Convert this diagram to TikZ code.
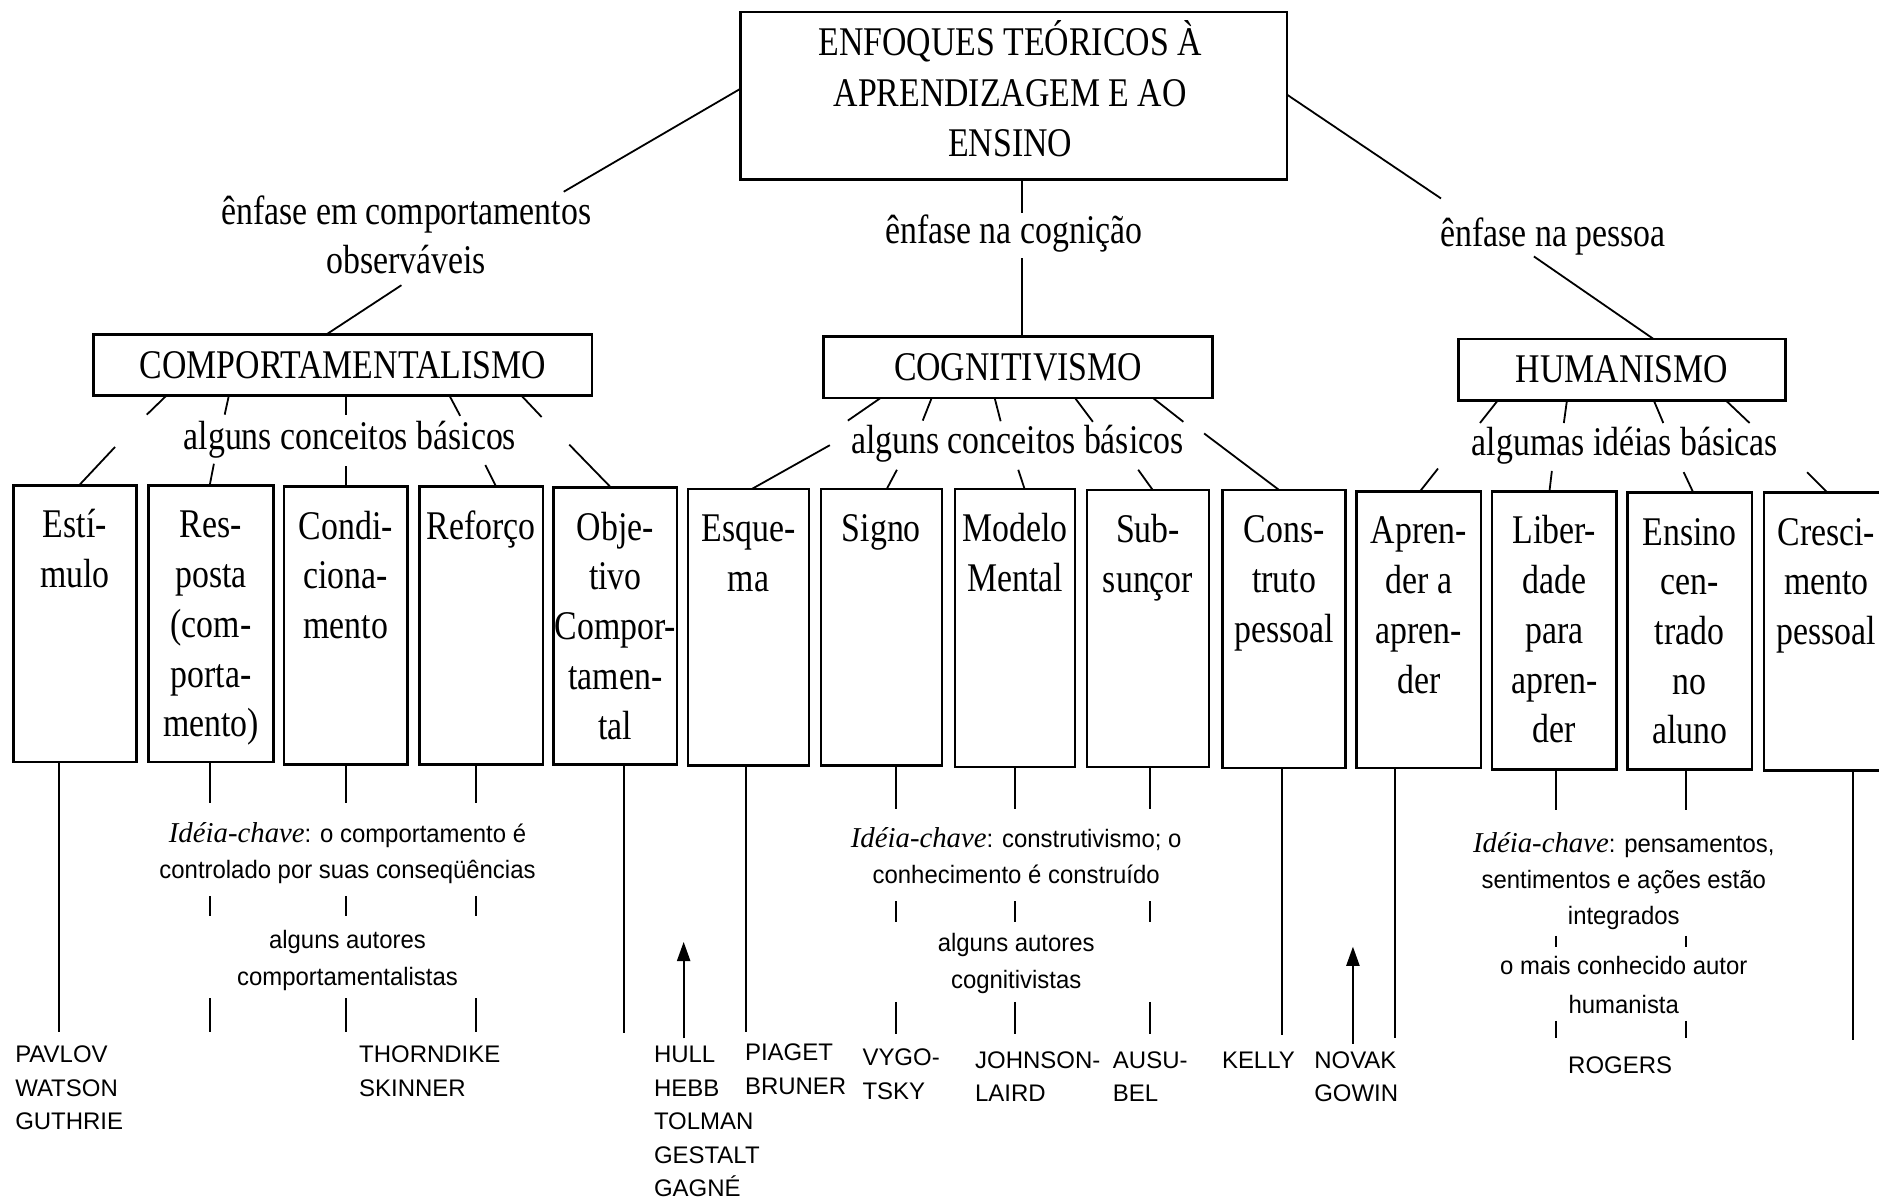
\documentclass[tikz,border=0pt]{standalone}
\usepackage{fontspec}
\setmainfont{Liberation Serif}[FakeStretch=0.83]
\newfontfamily\sansf{Liberation Sans}[FakeStretch=0.95]
\newfontfamily\namef{Liberation Sans}
\newfontfamily\keyf{Liberation Serif}
\usetikzlibrary{arrows.meta}
\newcommand{\ideia}{{\keyf\itshape\fontsize{24}{30}\selectfont Idéia-chave}}
\begin{document}
\begin{tikzpicture}[x=1pt,y=-1pt,line width=1.5pt,
  box/.style={draw,line width=2.2pt,inner sep=0pt,outer sep=0pt},
  big/.style={font=\fontsize{34}{41.5}\selectfont},
  btext/.style={big,align=center,anchor=north,inner sep=0pt},
  lab/.style={big,inner sep=0pt,anchor=base},
  small/.style={font=\sansf\fontsize{21}{30}\selectfont,align=center,anchor=north,inner sep=0pt},
  names/.style={font=\namef\fontsize{20}{28}\selectfont,align=left,anchor=north west,inner sep=0pt},
  arr/.style={-{Triangle[length=16pt,width=11pt]}}]

\fill[white] (0,0) rectangle (1568,1000.5);
\useasboundingbox (0,0) rectangle (1568,1000.5);

% ---- top level
\node[box,minimum width=456pt,minimum height=140pt] (top) at (846,80) {};
\node[btext,font=\fontsize{34}{42.5}\selectfont] (title) at (843,15.5) {\strut ENFOQUES TEÓRICOS À\\APRENDIZAGEM E AO\\ENSINO};
\node[btext] (e1) at (339,157.3) {\strut ênfase em comportamentos\\observáveis};
\node[lab] (e2) at (846,203.5) {ênfase na cognição};
\node[lab] (e3) at (1296,205.5) {ênfase na pessoa};

\node[box,big,minimum width=416pt,minimum height=51pt] (comp) at (286,304.5) {COMPORTAMENTALISMO};
\node[box,big,minimum width=325pt,minimum height=51pt] (cog) at (849.5,306.5) {COGNITIVISMO};
\node[box,big,minimum width=273pt,minimum height=51pt] (hum) at (1353.5,308.5) {HUMANISMO};

\node[lab] (c1) at (292,375.5) {alguns conceitos básicos};
\node[lab] (c2) at (849,378.5) {alguns conceitos básicos};
\node[lab] (c3) at (1356,380.5) {algumas idéias básicas};

\coordinate (p1) at (470.4,160);
\draw ([yshift=6pt]top.west) -- (p1);
\coordinate (p2) at (335,238);
\draw (p2) -- (comp.north -| 272.5,0);
\coordinate (p3) at (853,178);
\coordinate (p4) at (853,215.5);
\draw (top.south -| 853,0) -- (p3);
\draw (p4) -- (cog.north -| 853,0);
\coordinate (p5) at (1202.5,165.6);
\draw ([yshift=1pt]top.east) -- (p5);
\coordinate (p6) at (1280,214);
\draw (p6) -- (hum.north -| 1380,0);

% ---- concept boxes
\foreach \bn/\xa/\xb/\ya/\yb/\txt in {
  b1/11/114/405/636/{Estí-\\mulo},
  b2/124/228/405/636/{Res-\\posta\\(com-\\porta-\\mento)},
  b3/237/340/406/638/{Condi-\\ciona-\\mento},
  b4/350/453/406/638/{Reforço},
  b5/462/565/407/638/{Obje-\\tivo\\Compor-\\tamen-\\tal},
  b6/574/675/408/639/{Esque-\\ma},
  b7/685/786/408/639/{Signo},
  b8/797/897/408/640/{Modelo\\Mental},
  b9/907/1009/409/640/{Sub-\\sunçor},
  b10/1020/1123/409/641/{Cons-\\truto\\pessoal},
  b11/1132/1236/410/641/{Apren-\\der a\\apren-\\der},
  b12/1245/1349/410/642/{Liber-\\dade\\para\\apren-\\der},
  b13/1358/1462/411/642/{Ensino\\cen-\\trado\\no\\aluno},
  b14/1472/1576/411/643/{Cresci-\\mento\\pessoal}}{
  \node[box,minimum width={\xb pt-\xa pt},minimum height={\yb pt-\ya pt}] (\bn) at ({(\xa+\xb)/2},{(\ya+\yb)/2}) {};
  \node[btext] (t\bn) at ([yshift=-14pt]\bn.north) {\strut\txt};
}

% ---- fans: heading box -> label
\foreach \hb/\a/\b/\c [count=\i] in {
  comp/139/122.5/346, comp/191/187.5/346, comp/289/289/346.5, comp/375/384/347, comp/435/452/348,
  cog/735/707.5/351, cog/777.5/770/351, cog/830/835/351.5, cog/897/912/352, cog/962/987.5/352,
  hum/1250/1235/353, hum/1307.6/1305/353, hum/1380/1388/353, hum/1440/1460/353}{
  \coordinate (fa\i) at (\b,\c);
  \draw (\hb.south -| \a,0) -- (fa\i);
}
% ---- fans: label -> concept boxes
\foreach \a/\b/\bx/\tx [count=\i] in {
  96/373/b1/66, 178.5/387/b2/175, 289/389/b3/289, 405/388/b4/414, 475/371/b5/510,
  692.5/371.5/b6/627.5, 748.5/392/b7/740, 849.7/392/b8/855, 949.8/392/b9/962, 1004.8/361.7/b10/1067.5,
  1200/391/b11/1185, 1295/393/b12/1293, 1405/394/b13/1413, 1508/394/b14/1525}{
  \coordinate (fb\i) at (\a,\b);
  \draw (fb\i) -- (\bx.north -| \tx,0);
}

% ---- key ideas and authors texts
\node[small] (k1) at (290,681.6) {\strut\ideia: o comportamento é\\controlado por suas conseqüências};
\node[small,font=\sansf\fontsize{21}{31}\selectfont] (a1) at (290,769.3) {\strut alguns autores\\comportamentalistas};
\node[small] (k2) at (848,685.8) {\strut\ideia: construtivismo; o\\conhecimento é construído};
\node[small,font=\sansf\fontsize{21}{31}\selectfont] (a2) at (848,771.3) {\strut alguns autores\\cognitivistas};
\node[small] (k3) at (1355,690) {\strut\ideia: pensamentos,\\sentimentos e ações estão\\integrados};
\node[small,font=\sansf\fontsize{21}{32}\selectfont] (a3) at (1355,790.2) {\strut o mais conhecido autor\\humanista};

% ---- long vertical lines
\foreach \bx/\lx/\ly in {b1/49.5/861,b5/521/862,b6/622.5/861,b10/1070/864,b11/1164/866,b14/1546/868}{
  \coordinate (v\bx) at (\lx,\ly);
  \draw (\bx.south -| \lx,0) -- (v\bx);
}
% ---- segmented vertical lines
\foreach \bx/\lx/\ya/\yb/\yc/\yd/\ye in {
  b2/175/670/748/764/833/861, b3/289/670/748/764/833/861, b4/397/670/748/764/833/861,
  b7/748/675/752/769/836/863, b8/847/675/752/769/836/863, b9/959.5/675/752/769/836/863,
  b12/1298.5/676/781/790/852/866, b13/1407/676/781/790/852/866}{
  \coordinate (sa\bx) at (\lx,\ya);
  \coordinate (sb\bx) at (\lx,\yb);
  \coordinate (sc\bx) at (\lx,\yc);
  \coordinate (sd\bx) at (\lx,\yd);
  \coordinate (se\bx) at (\lx,\ye);
  \draw (\bx.south -| \lx,0) -- (sa\bx);
  \draw (sb\bx) -- (sc\bx);
  \draw (sd\bx) -- (se\bx);
}

% ---- author names
\node[names] (pav) at (12,866.4) {\strut PAVLOV\\WATSON\\GUTHRIE};
\node[names] (tho) at (299,866.4) {\strut THORNDIKE\\SKINNER};
\node[names] (hull) at (545,866.4) {\strut HULL\\HEBB\\TOLMAN\\GESTALT\\GAGNÉ};
\node[names] (pia) at (621,865) {\strut PIAGET\\BRUNER};
\node[names] (vyg) at (719,869) {\strut VYGO-\\TSKY};
\node[names] (joh) at (813,871) {\strut JOHNSON-\\LAIRD};
\node[names] (aus) at (928,871) {\strut AUSU-\\BEL};
\node[names] (kel) at (1019,871) {\strut KELLY};
\node[names] (nov) at (1096,871) {\strut NOVAK\\GOWIN};
\node[names,anchor=base] (rog) at (1352,896) {ROGERS};

% ---- arrows
\coordinate (tipA) at (570.5,786);
\draw[arr] (hull.north -| 570.5,0) -- (tipA);
\coordinate (tipB) at (1129,790);
\draw[arr] (nov.north -| 1129,0) -- (tipB);
\end{tikzpicture}
\end{document}
